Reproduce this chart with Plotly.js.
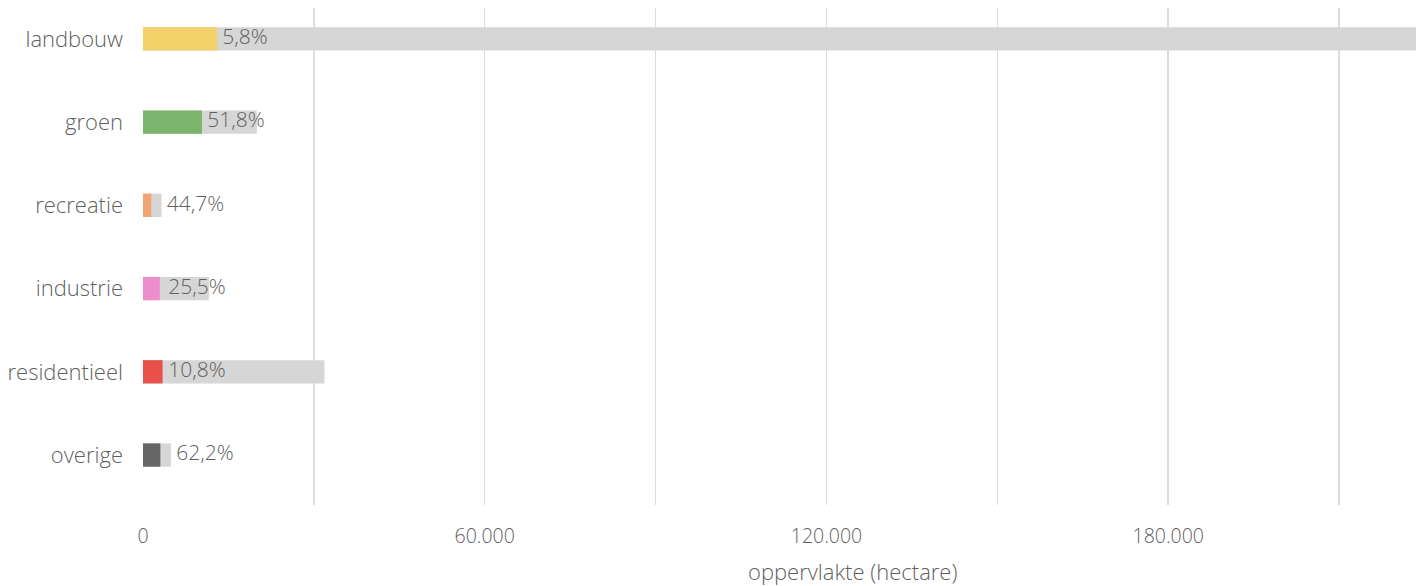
<!DOCTYPE html>
<html>
<head>
<meta charset="utf-8">
<script src="https://cdn.plot.ly/plotly-3.0.1.min.js"></script>
<style>html,body{margin:0;padding:0;background:#fff;}#chart{width:1427px;height:586px;}</style>
</head>
<body>
<div id="chart"></div>
<script>
const categories = ["landbouw", "groen", "recreatie", "industrie", "residentieel", "overige"];
const totalArea = [223500, 19980, 3250, 11570, 31850, 4900];
const partArea = [13000, 10350, 1450, 2950, 3440, 3050];
const percentages = [5.8, 51.8, 44.7, 25.5, 10.8, 62.2];
const partColors = ["#F2D16B", "#7DB46C", "#F3A46F", "#EC8ECB", "#E9504A", "#666666"];
const xTickVals = [0, 60000, 120000, 180000];
const xTickText = ["0", "60.000", "120.000", "180.000"];
const xGridVals = [0, 30000, 60000, 90000, 120000, 150000, 180000, 210000];
const xTitle = "oppervlakte (hectare)";

const labelText = percentages.map(p => "\u2005" + p.toFixed(1).replace(".", ",") + "%");
const labelX = categories.map((c, i) => totalArea[i] < 6000 ? totalArea[i] : Math.max(partArea[i], 3500));

const FONT = "'Open Sans', sans-serif";
const TXT = "#5f5f5f";
const traces = [
  {type: "bar", orientation: "h", y: categories, x: totalArea, marker: {color: "#D6D6D6"}, width: 0.28, hoverinfo: "skip", showlegend: false},
  {type: "bar", orientation: "h", y: categories, x: partArea, marker: {color: partColors}, width: 0.28, hoverinfo: "skip", showlegend: false},
  {type: "scatter", mode: "text", y: categories, x: labelX, text: labelText, textposition: "middle right",
   textfont: {family: FONT, size: 21, color: TXT, weight: 300}, hoverinfo: "skip", showlegend: false, cliponaxis: false}
];

const layout = {
  width: 1427, height: 586,
  margin: {l: 143, r: 11, t: 8, b: 81},
  paper_bgcolor: "#fff", plot_bgcolor: "#fff",
  barmode: "overlay",
  font: {family: FONT, color: TXT},
  xaxis: {
    range: [0, 223500],
    tickvals: xGridVals,
    ticktext: xGridVals.map(v => { const k = xTickVals.indexOf(v); return k >= 0 ? xTickText[k] : ""; }),
    showgrid: true, gridcolor: "#DCDCDC", gridwidth: 1.5,
    zeroline: false, showline: false, ticks: "", ticklen: 0,
    ticklabelstandoff: 17,
    tickfont: {family: FONT, size: 19.5, color: TXT, weight: 300}
  },
  yaxis: {
    type: "category",
    range: [5.6, -0.37],
    showgrid: false, zeroline: false, showline: false, ticks: "",
    ticklabelstandoff: 19,
    tickfont: {family: FONT, size: 22, color: TXT, weight: 300}
  },
  annotations: [{
    text: xTitle, xref: "paper", yref: "paper", x: 0.557, y: 0, yshift: -66,
    xanchor: "center", yanchor: "middle", showarrow: false,
    font: {family: FONT, size: 22, color: TXT, weight: 300}
  }]
};

Plotly.newPlot("chart", traces, layout, {displayModeBar: false, staticPlot: true});
</script>
</body>
</html>
